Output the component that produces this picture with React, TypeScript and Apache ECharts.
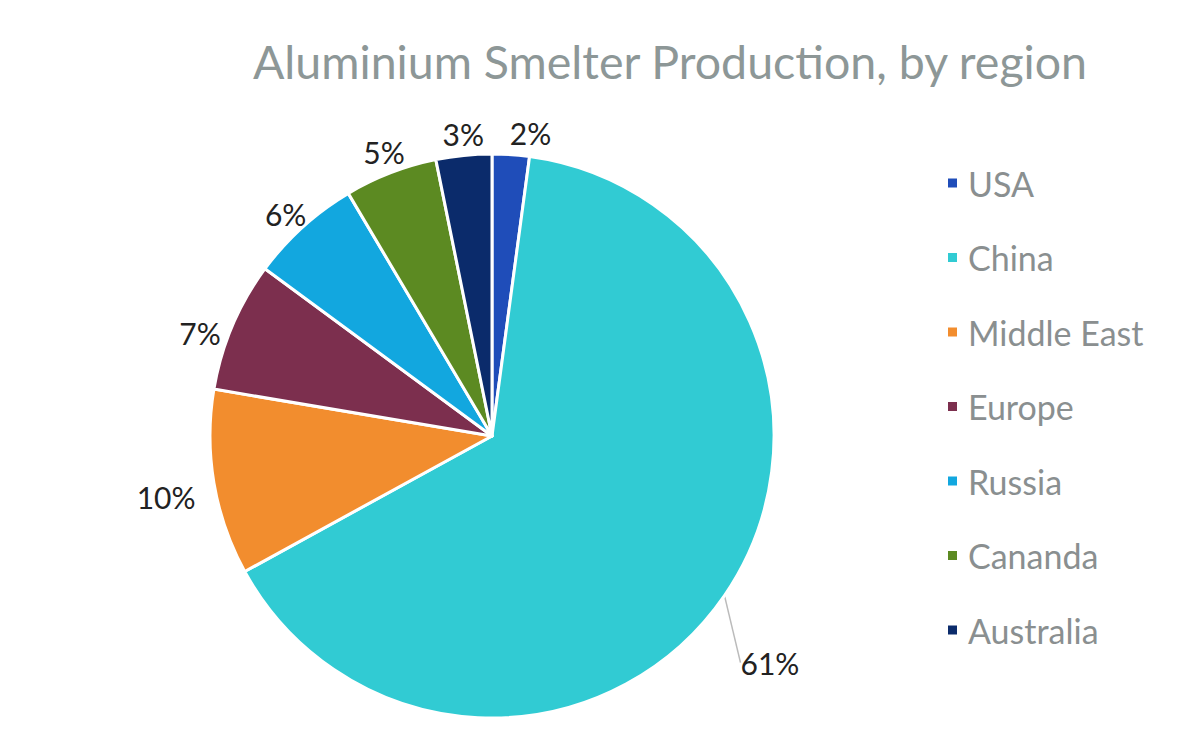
import React, { useEffect, useRef } from "react";
import * as echarts from "echarts";

const categories = ["USA", "China", "Middle East", "Europe", "Russia", "Cananda", "Australia"];
const values = [2, 61, 10, 7, 6, 5, 3];
const colors = ["#1F4DB9", "#31CBD3", "#F28D2E", "#7C2F4E", "#12A7DF", "#5C8A22", "#0B2B6B"];

// label placement tweaks (style only): extra radial gap and nudge per slice
const labelGap = [8, 0, 20, 8, 8, 8, 8];
const labelNudge: [number, number][] = [
  [18, 3],
  [0, 0],
  [3, 6],
  [-2, 20],
  [5, 12],
  [4, 7],
  [2, 3],
];

const CX = 492;
const CY = 436;
const R = 282;

export default function App() {
  const ref = useRef<HTMLDivElement>(null);
  useEffect(() => {
    const chart = echarts.init(ref.current!, undefined, { renderer: "svg" });
    const total = values.reduce((a, b) => a + b, 0);
    const mids: number[] = [];
    let acc = 0;
    values.forEach((v) => {
      mids.push(((acc + v / 2) / total) * Math.PI * 2);
      acc += v;
    });
    chart.setOption({
      animation: false,
      backgroundColor: "#ffffff",
      title: {
        text: "Aluminium Smelter Production, by region",
        left: 665,
        textAlign: "center",
        top: 32,
        textStyle: { fontFamily: "Lato", fontSize: 46.5, fontWeight: "normal", color: "#8D9797" },
      },
      legend: {
        orient: "vertical",
        left: 941,
        top: 161,
        icon: "rect",
        itemWidth: 11,
        itemHeight: 11,
        itemGap: 40.5,
        textStyle: {
          fontFamily: "Lato",
          fontSize: 34,
          lineHeight: 34,
          color: "#8A8F90",
          padding: [0, 0, 0, 5],
        },
        data: categories,
      },
      series: [
        {
          type: "pie",
          center: [CX, CY],
          radius: R,
          startAngle: 90,
          clockwise: true,
          avoidLabelOverlap: false,
          itemStyle: { borderColor: "#ffffff", borderWidth: 3 },
          label: {
            show: true,
            position: "outside",
            formatter: "{c}%",
            fontFamily: "Lato",
            fontSize: 30,
            color: "#222222",
          },
          labelLine: { show: false, length: 8, length2: 0 },
          labelLayout: (params: any) => {
            const i = params.dataIndex;
            const a = mids[i];
            const s = Math.sin(a);
            const c = Math.cos(a);
            const w = params.labelRect.width / 2;
            const h = params.labelRect.height / 2;
            if (i === 1) {
              const ex = CX + R * s;
              const ey = CY - R * c;
              return { x: ex + 16, y: ey + 67, align: "left", verticalAlign: "middle" };
            }
            const d = R + labelGap[i] + Math.abs(s) * w + Math.abs(c) * h;
            return {
              x: CX + d * s + labelNudge[i][0],
              y: CY - d * c + labelNudge[i][1],
              align: "center",
              verticalAlign: "middle",
            };
          },
          data: categories.map((name, i) => ({
            name,
            value: values[i],
            itemStyle: { color: colors[i] },
            labelLine:
              name === "China"
                ? { show: true, length: 60, length2: 0, lineStyle: { color: "#BBBBBB", width: 1.5 } }
                : undefined,
          })),
        },
      ],
    });
    return () => chart.dispose();
  }, []);
  return <div ref={ref} style={{ position: "fixed", left: 0, top: 0, width: 1200, height: 746 }} />;
}
